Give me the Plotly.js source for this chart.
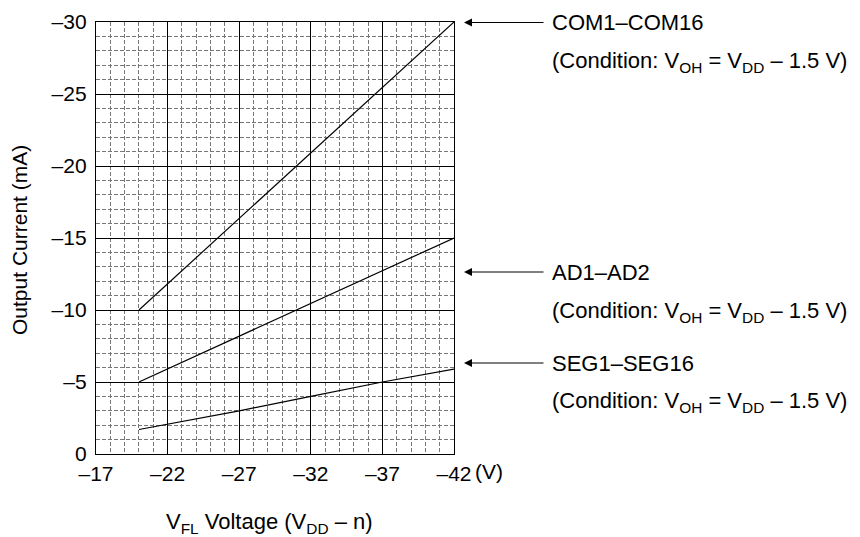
<!DOCTYPE html>
<html>
<head>
<meta charset="utf-8">
<script src="https://cdn.plot.ly/plotly-3.0.1.min.js"></script>
<style>html,body{margin:0;padding:0;background:#fff;}#chart{width:860px;height:537px;}</style>
</head>
<body>
<div id="chart"></div>
<script>
// Data
const voltage = [-20, -27, -32, -37, -42];
const comCurrent = [-10, -16.36, -20.91, -25.45, -30];
const adCurrent = [-5, -8.18, -10.45, -12.73, -15];
const segCurrent = [-1.7, -3.0, -4.0, -5.0, -5.9];
const xTickVals = [-17, -22, -27, -32, -37, -42];
const xTickText = ['\u201317', '\u201322', '\u201327', '\u201332', '\u201337', '\u201342'];
const yTickVals = [0, -5, -10, -15, -20, -25, -30];
const yTickText = ['0', '\u20135', '\u201310', '\u201315', '\u201320', '\u201325', '\u201330'];
const seriesNames = ['COM1\u2013COM16', 'AD1\u2013AD2', 'SEG1\u2013SEG16'];
const conditionText = '(Condition: V<sub>OH</sub> = V<sub>DD</sub> \u2013 1.5 V)';

// Layout geometry (pixels)
const W = 860, H = 537;
const L = 96, R = 454, T = 22, B = 454;
const pw = R - L, ph = B - T;
const px = x => (x - L) / pw;
const py = y => (B - y) / ph;

const FONT = 'Liberation Sans, Arial, sans-serif';
const line = {color: '#000', width: 1.2};

const traces = [
  {x: voltage, y: comCurrent, mode: 'lines', line: line, name: seriesNames[0]},
  {x: voltage, y: adCurrent, mode: 'lines', line: line, name: seriesNames[1]},
  {x: voltage, y: segCurrent, mode: 'lines', line: line, name: seriesNames[2]}
];

const labelY = [[22.5, 62], [272, 312], [363, 402]];
const annotations = [];
seriesNames.forEach((n, i) => {
  annotations.push({xref: 'paper', yref: 'paper', x: px(464), y: py(labelY[i][0]),
    ax: 81, ay: 0, axref: 'pixel', ayref: 'pixel', text: '', showarrow: true,
    arrowhead: 2, arrowsize: 1.6, arrowwidth: 1, arrowcolor: '#000'});
  annotations.push({xref: 'paper', yref: 'paper', x: px(550), y: py(labelY[i][0]),
    xanchor: 'left', yanchor: 'middle', text: n, showarrow: false,
    font: {family: FONT, size: 22, color: '#000'}});
  annotations.push({xref: 'paper', yref: 'paper', x: px(550), y: py(labelY[i][1]),
    xanchor: 'left', yanchor: 'middle', text: conditionText, showarrow: false,
    font: {family: FONT, size: 22, color: '#000'}});
});
annotations.push({xref: 'paper', yref: 'paper', x: px(473), y: py(471),
  xanchor: 'left', yanchor: 'middle', text: '(V)', showarrow: false,
  font: {family: FONT, size: 21, color: '#000'}});
annotations.push({xref: 'paper', yref: 'paper', x: px(269), y: py(523),
  xanchor: 'center', yanchor: 'middle', text: 'V<sub>FL</sub> Voltage (V<sub>DD</sub> \u2013 n)', showarrow: false,
  font: {family: FONT, size: 22, color: '#000'}});
annotations.push({xref: 'paper', yref: 'paper', x: px(19), y: py(240),
  xanchor: 'center', yanchor: 'middle', textangle: -90, text: 'Output Current (mA)', showarrow: false,
  font: {family: FONT, size: 21, color: '#000'}});

const minorGrid = {showgrid: true, gridcolor: '#777', gridwidth: 1, griddash: '4px,2px', ticks: ''};

const layout = {
  width: W, height: H,
  margin: {l: L, r: W - R, t: T, b: H - B, pad: 0},
  paper_bgcolor: '#fff', plot_bgcolor: '#fff',
  showlegend: false,
  font: {family: FONT, size: 21, color: '#000'},
  xaxis: {
    range: [-17, -42], tickvals: xTickVals, ticktext: xTickText,
    showgrid: true, gridcolor: '#000', gridwidth: 1,
    showline: true, linecolor: '#000', linewidth: 1.2, mirror: true,
    ticks: '', zeroline: false, ticklabelstandoff: 1,
    minor: Object.assign({dtick: 1, tick0: -17}, minorGrid),
    tickfont: {family: FONT, size: 21, color: '#000'}
  },
  yaxis: {
    range: [0, -30], tickvals: yTickVals, ticktext: yTickText,
    showgrid: true, gridcolor: '#000', gridwidth: 1,
    showline: true, linecolor: '#000', linewidth: 1.2, mirror: true,
    ticks: '', zeroline: false, ticklabelstandoff: 4,
    minor: Object.assign({dtick: 1, tick0: 0}, minorGrid),
    tickfont: {family: FONT, size: 21, color: '#000'}
  },
  annotations: annotations
};

Plotly.newPlot('chart', traces, layout, {staticPlot: true, displayModeBar: false});
</script>
</body>
</html>
